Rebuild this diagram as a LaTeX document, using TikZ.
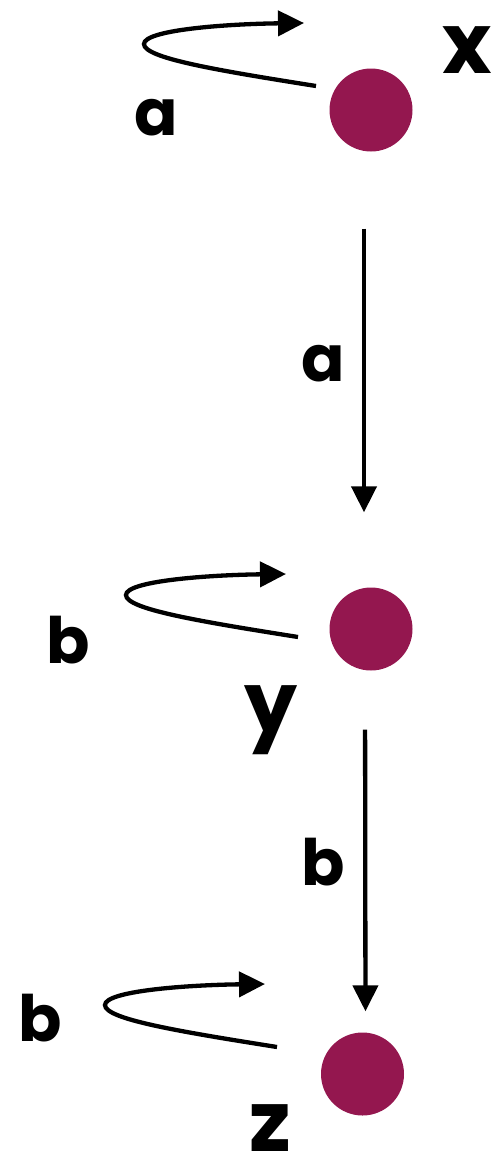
\documentclass[tikz,border=0pt]{standalone}
\usepackage{fontspec}
\setmainfont{Poppins}
\usetikzlibrary{arrows.meta}
\definecolor{statecol}{HTML}{94174F}
\tikzset{
  state/.style={circle, fill=statecol, draw=none, minimum size=83pt, inner sep=0pt},
  edge/.style={line width=4.3pt, -{Triangle[length=26pt,width=25pt]}},
  smalllab/.style={inner sep=0pt, font=\fontsize{64}{64}\selectfont\bfseries},
  biglab/.style={inner sep=0pt, font=\fontsize{84}{84}\selectfont\bfseries},
}
\begin{document}
\begin{tikzpicture}[x=1pt,y=-1pt]
\useasboundingbox (0,0) rectangle (493,1165);
% states
\node[state] (x) at (371,110) {};
\node[state] (y) at (371,629) {};
\node[state] (z) at (362.5,1074) {};
% state labels
\node[biglab] (lx) at (467,50) {x};
\node[biglab] (ly) at (271,720) {y};
\node[biglab] (lz) at (270,1128) {z};
% transitions
\draw[edge, shorten <=77pt, shorten >=75pt] ([xshift=-7pt]x.south) -- ([xshift=-7pt]y.north);
\node[smalllab] (la1) at (323,364) {a};
\draw[edge, shorten <=59pt, shorten >=21pt] ([xshift=-6pt]y.south) -- ([xshift=3pt]z.north);
\node[smalllab] (lb1) at (323,862) {b};
% self loops
\foreach \n/\dx/\dy in {x/0/0, y/-18/551, z/-39/961}{
  \coordinate (\n s) at (316+\dx,86+\dy);
  \coordinate (\n m) at (144+\dx,44+\dy);
  \coordinate (\n t) at (304+\dx,23+\dy);
  \draw[edge] (\n s) .. controls (215+\dx,70+\dy) and (144+\dx,58+\dy) .. (\n m)
     .. controls (144+\dx,30+\dy) and (225+\dx,24+\dy) .. (\n t);
}
\node[smalllab] (la2) at (156,118) {a};
\node[smalllab] (lb2) at (68,640) {b};
\node[smalllab] (lb3) at (40,1018) {b};
\end{tikzpicture}
\end{document}
